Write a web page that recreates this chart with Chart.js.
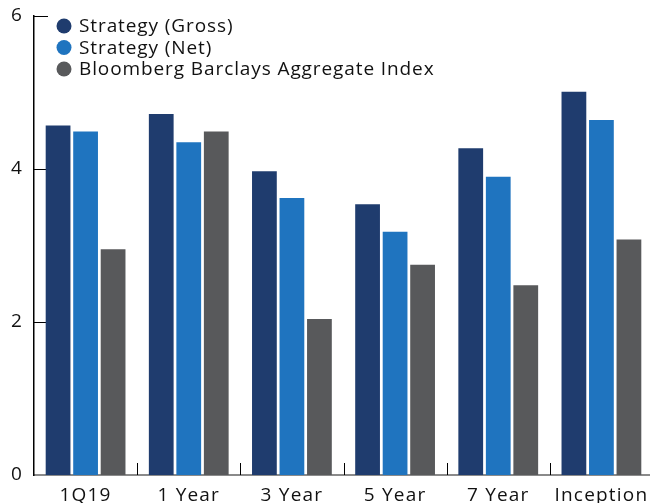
<!DOCTYPE html>
<html>
<head>
<meta charset="utf-8">
<script src="https://cdn.jsdelivr.net/npm/chart.js@4.4.0/dist/chart.umd.min.js"></script>
<style>
html,body{margin:0;padding:0;background:#fff;overflow:hidden;}
#wrap{width:650px;height:503px;overflow:hidden;position:relative;}
canvas{display:block;}
</style>
</head>
<body>
<div id="wrap"><canvas id="c" width="653" height="503"></canvas></div>
<script>
const categories = ["1Q19", "1 Year", "3 Year", "5 Year", "7 Year", "Inception"];
const seriesNames = ["Strategy (Gross)", "Strategy (Net)", "Bloomberg Barclays Aggregate Index"];
const gross = [4.57, 4.72, 3.97, 3.54, 4.27, 5.01];
const net = [4.49, 4.35, 3.62, 3.18, 3.90, 4.64];
const index = [2.95, 4.49, 2.04, 2.75, 2.48, 3.08];
const yTicks = [0, 2, 4, 6];
const colors = ["#1f3c6e", "#1f74bf", "#58595b"];
const FONT = "'Open Sans', 'Noto Sans', sans-serif";

const spacingPlugin = {
  id: 'spacing',
  beforeDraw(chart) { chart.ctx.letterSpacing = '1.2px'; }
};

const tickPlugin = {
  id: 'innerTicks',
  beforeDatasetsDraw(chart) {
    const ctx = chart.ctx;
    const y = chart.scales.y, x = chart.scales.x;
    const left = chart.chartArea.left, bottom = chart.chartArea.bottom;
    ctx.save();
    ctx.strokeStyle = '#000';
    ctx.lineWidth = 1;
    yTicks.forEach(v => {
      if (v === 0) return;
      const py = Math.round(y.getPixelForValue(v)) + 0.5;
      ctx.beginPath(); ctx.moveTo(left, py); ctx.lineTo(left + 14, py); ctx.stroke();
    });
    for (let i = 1; i < categories.length; i++) {
      const px = Math.round((x.getPixelForValue(i - 1) + x.getPixelForValue(i)) / 2) + 0.5;
      ctx.beginPath(); ctx.moveTo(px, bottom); ctx.lineTo(px, bottom - 12); ctx.stroke();
    }
    ctx.restore();
  }
};

const legendPlugin = {
  id: 'inLegend',
  afterDraw(chart) {
    const ctx = chart.ctx;
    ctx.save();
    ctx.letterSpacing = '0.9px';
    ctx.font = "19px " + FONT;
    ctx.textBaseline = 'middle';
    ctx.textAlign = 'left';
    chart.data.datasets.forEach((ds, i) => {
      const cy = 26 + i * 21.5;
      ctx.fillStyle = ds.backgroundColor;
      ctx.beginPath(); ctx.arc(64, cy, 7.5, 0, Math.PI * 2); ctx.fill();
      ctx.fillStyle = '#111';
      ctx.fillText(ds.label, 79, cy + 1);
    });
    ctx.restore();
  }
};

new Chart(document.getElementById('c'), {
  type: 'bar',
  data: {
    labels: categories,
    datasets: [
      { label: seriesNames[0], data: gross, backgroundColor: colors[0] },
      { label: seriesNames[1], data: net, backgroundColor: colors[1] },
      { label: seriesNames[2], data: index, backgroundColor: colors[2] }
    ]
  },
  options: {
    responsive: false,
    animation: false,
    devicePixelRatio: 1,
    layout: { padding: { top: 16, right: 0, left: 0, bottom: 0 } },
    datasets: { bar: { categoryPercentage: 0.8, barPercentage: 0.9 } },
    plugins: { legend: { display: false }, tooltip: { enabled: false } },
    scales: {
      x: {
        grid: { display: false, drawTicks: false },
        border: { display: true, color: '#8a8a8a', width: 2 },
        ticks: { color: '#111', font: { size: 19, family: FONT }, padding: 9, maxRotation: 0 },
        afterFit(s) { s.height = 28; s.paddingLeft = 0; s.paddingRight = 0; }
      },
      y: {
        min: 0, max: 6,
        afterBuildTicks(s) { s.ticks = yTicks.map(v => ({ value: v })); },
        grid: { display: false, drawTicks: false },
        border: { display: true, color: '#000', width: 1.5 },
        ticks: { color: '#111', font: { size: 19, family: FONT }, padding: 11 },
        afterFit(s) { s.width = 34; s.paddingTop = 0; s.paddingBottom = 0; }
      }
    }
  },
  plugins: [spacingPlugin, tickPlugin, legendPlugin]
});
</script>
</body>
</html>
